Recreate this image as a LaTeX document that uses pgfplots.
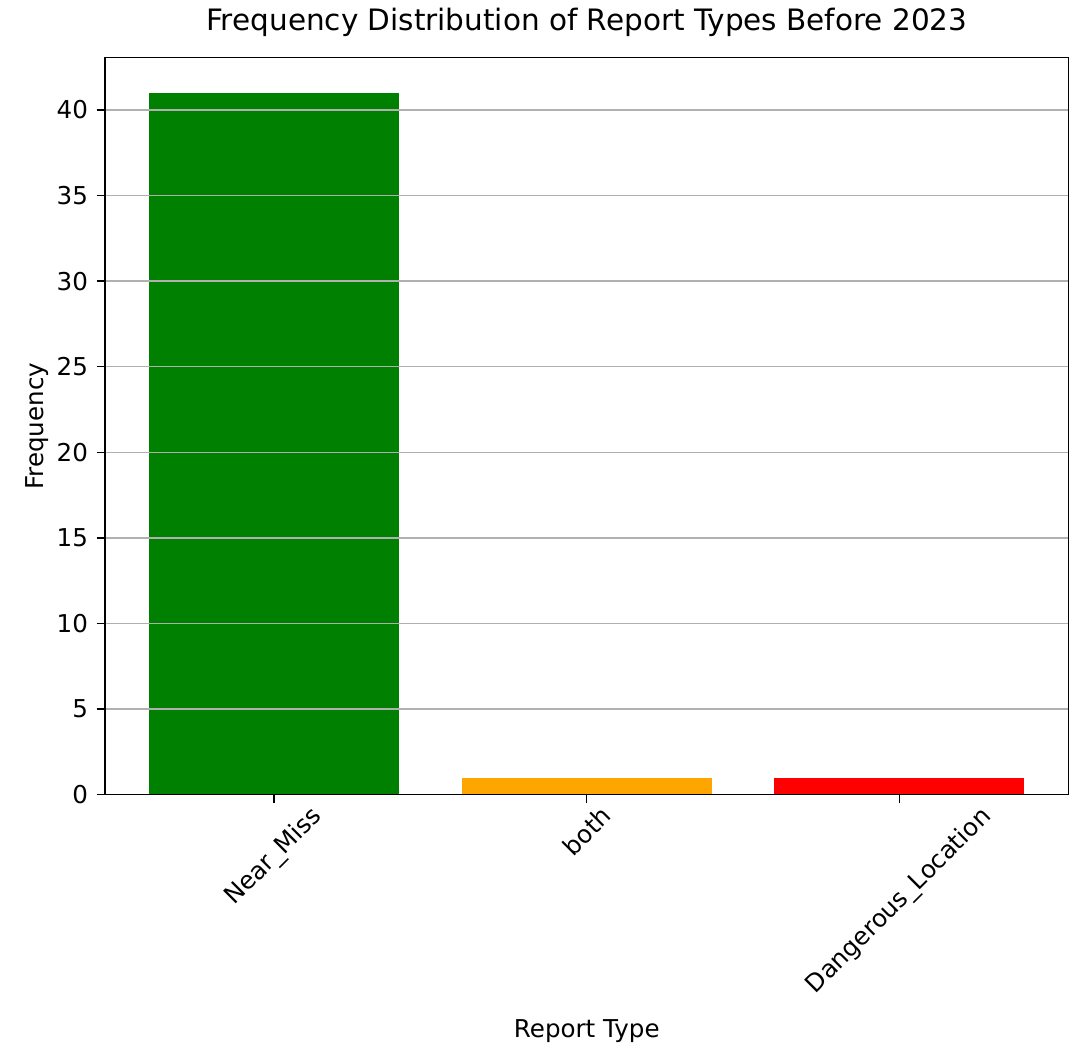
\documentclass[border=0pt]{standalone}
\usepackage{fontspec}
\setmainfont{DejaVu Sans}
\usepackage{pgfplots}
\pgfplotsset{compat=1.18}
\definecolor{mplgreen}{RGB}{0,128,0}
\definecolor{mplorange}{RGB}{255,165,0}
\definecolor{mplred}{RGB}{255,0,0}
\begin{document}
\begin{tikzpicture}
\begin{axis}[
  scale only axis,
  width=392pt, height=300pt,
  xmin=-0.54, xmax=2.54,
  ymin=0, ymax=43.05,
  xtick={0,1,2},
  xticklabels={\rotatebox{45}{Near\_Miss},\rotatebox{45}{both},\rotatebox{45}{Dangerous\_Location}},
  xticklabel style={anchor=north, yshift=3pt},
  ytick={0,5,...,40},
  tick pos=left,
  tick align=outside,
  major tick length=3.5pt,
  tick style={black, line width=0.6pt},
  axis line style={line width=0.6pt},
  ymajorgrids,
  grid style={color=black!31, line width=0.6pt},
  axis on top,
  tick label style={font=\fontsize{10}{12}\selectfont},
  /pgf/number format/assume math mode=true,
  title={Frequency Distribution of Report Types Before 2023},
  title style={font=\fontsize{12}{14}\selectfont, yshift=-1pt},
  xlabel={Report Type},
  ylabel={Frequency},
  label style={font=\fontsize{10}{12}\selectfont},
  xlabel style={yshift=-2pt},
  ylabel style={yshift=-3.5pt},
  ybar, bar width=0.8, bar shift=0pt,
]
\addplot[fill=mplgreen, draw=none] coordinates {(0,41)};
\addplot[fill=mplorange, draw=none] coordinates {(1,1)};
\addplot[fill=mplred, draw=none] coordinates {(2,1)};
\end{axis}
% a little white margin on the left, as in the original figure
\path (current axis.outer south west) ++(-7pt,0pt);
\end{tikzpicture}
\end{document}
